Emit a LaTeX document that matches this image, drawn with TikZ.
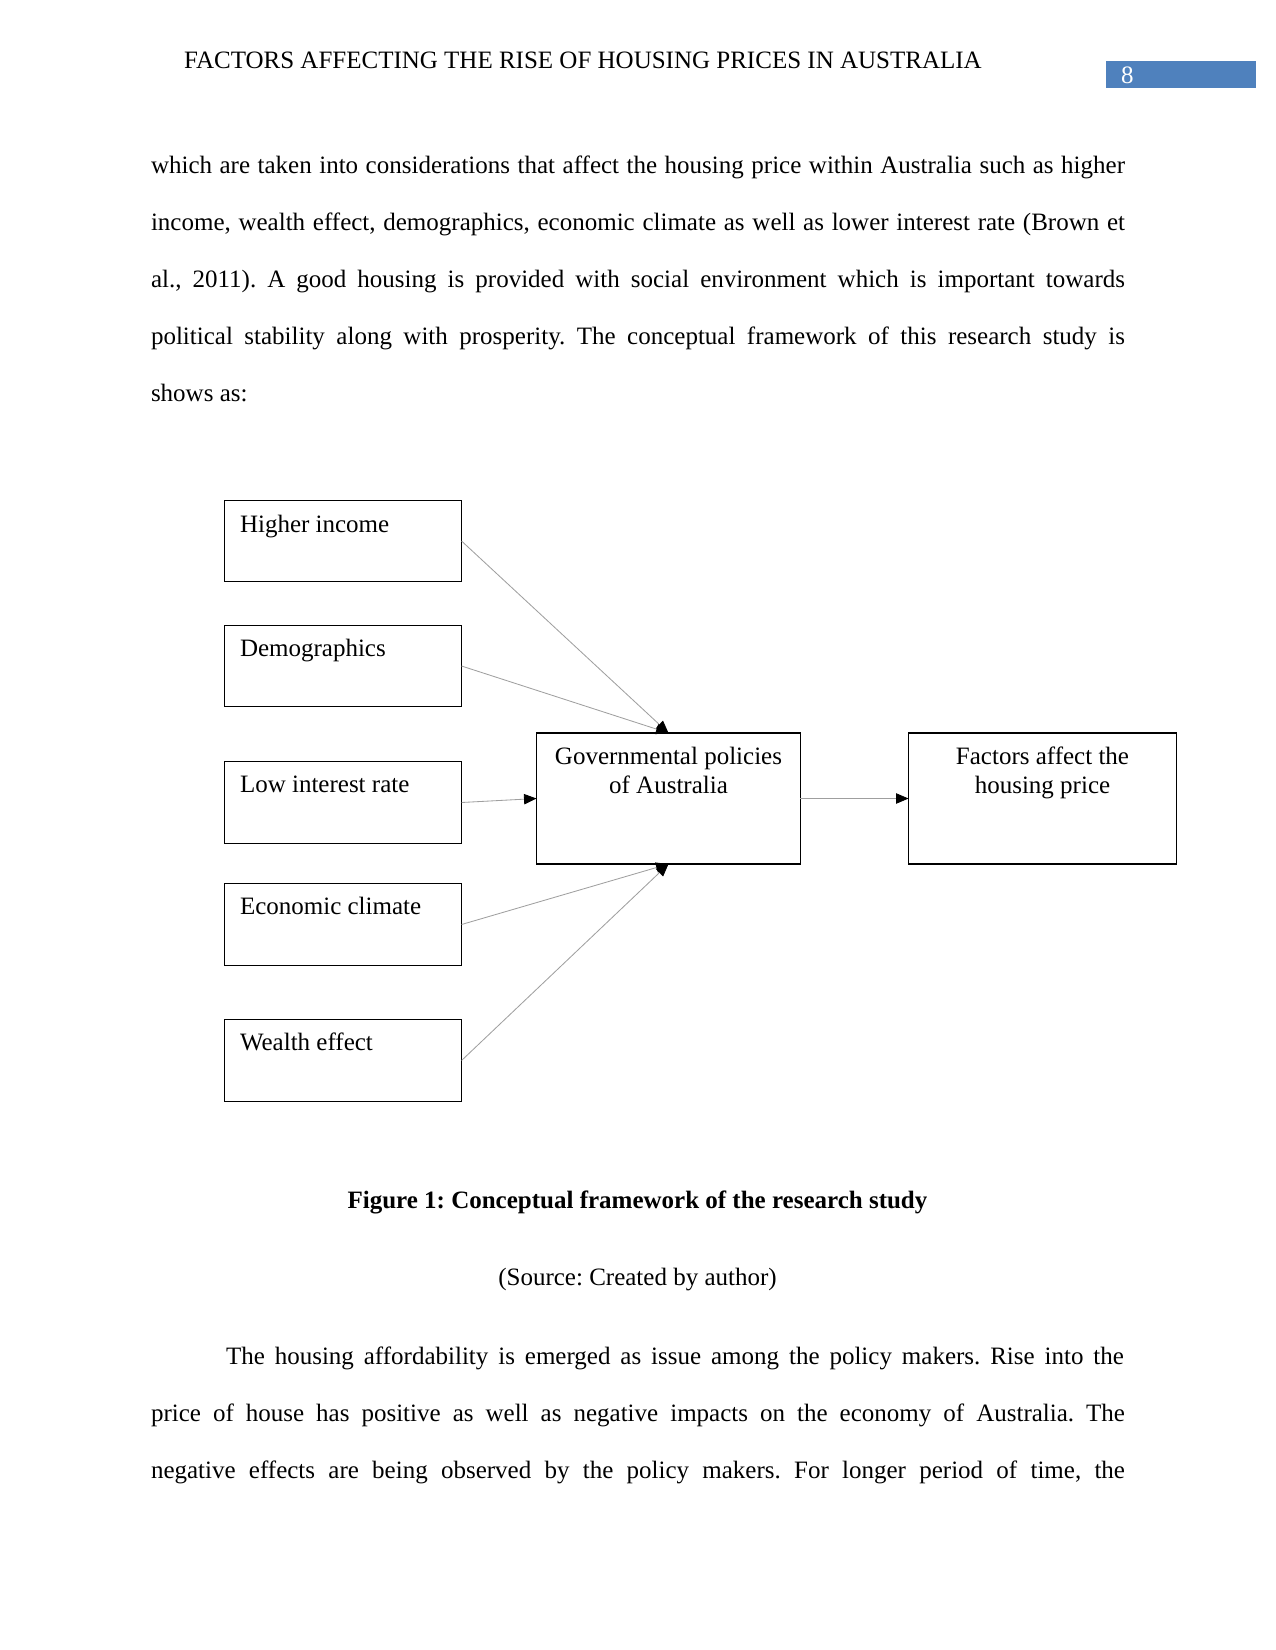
\documentclass[tikz,border=0pt]{standalone}
\usepackage{fontspec}
\setmainfont{Liberation Serif}
\usetikzlibrary{arrows.meta}
\definecolor{pgblue}{HTML}{4F81BD}
\frenchspacing
\begin{document}
\begin{tikzpicture}[x=0.48bp,y=-0.48bp,
  every node/.style={font=\fontsize{12bp}{14bp}\selectfont\frenchspacing, inner sep=0pt, outer sep=0pt},
  txt/.style={anchor=base west},
  srcbox/.style={draw, line width=0.55pt, minimum width=113.8bp, minimum height=39bp},
  midbox/.style={draw, line width=0.55pt, minimum height=62.9bp},
  conn/.style={draw=gray!75, line width=0.4pt, -{Triangle[length=6bp,width=5bp,black]}}]
\useasboundingbox (0,0) rectangle (1275,1650);
\fill[white] (0,0) rectangle (1275,1650);
% header
\node[txt] (hdr) at (184,68) {FACTORS AFFECTING THE RISE OF HOUSING PRICES IN AUSTRALIA};
\fill[pgblue] (1106,61) rectangle (1256,88);
\node[txt, text=white] (pgnum) at (1121,83) {8};
% first paragraph
\node[txt] (l1) at (151,173) {\makebox[467.5bp][s]{which are taken into considerations that affect the housing price within Australia such as higher}};
\node[txt] (l2) at (151,230) {\makebox[467.5bp][s]{income, wealth effect, demographics, economic climate as well as lower interest rate (Brown et}};
\node[txt] (l3) at (151,287) {\makebox[467.5bp][s]{al., 2011). A good housing is provided with social environment which is important towards}};
\node[txt] (l4) at (151,344) {\makebox[467.5bp][s]{political stability along with prosperity. The conceptual framework of this research study is}};
\node[txt] (l5) at (151,401) {shows as:};
% diagram
\node[srcbox] (hi) at (343,541) {};
\node[srcbox] (de) at (343,666) {};
\node[srcbox] (li) at (343,802.5) {};
\node[srcbox] (ec) at (343,924.5) {};
\node[srcbox] (we) at (343,1060.5) {};
\node[txt] (hit) at (240,532) {Higher income};
\node[txt] (det) at (240,656) {Demographics};
\node[txt] (lit) at (240,792) {Low interest rate};
\node[txt] (ect) at (240,914) {Economic climate};
\node[txt] (wet) at (240,1050) {Wealth effect};
\node[midbox, minimum width=126.7bp] (gov) at (668.5,798.5) {};
\node[midbox, minimum width=128.6bp] (fac) at (1042.5,798.5) {};
\node[anchor=base] (gov1) at (668.5,764) {Governmental policies};
\node[anchor=base] (gov2) at (668.5,793) {of Australia};
\node[anchor=base] (fac1) at (1042.5,764) {Factors affect the};
\node[anchor=base] (fac2) at (1042.5,793) {housing price};
\draw[conn] (hi.east) -- (gov.north);
\draw[conn] (de.east) -- (gov.north);
\draw[conn] (li.east) -- (gov.west);
\draw[conn] (ec.east) -- (gov.south);
\draw[conn] (we.east) -- (gov.south);
\draw[conn] (gov.east) -- (fac.west);
% caption
\node[anchor=base, font=\fontsize{12bp}{14bp}\selectfont\frenchspacing\bfseries] (cap) at (637.5,1208) {Figure 1: Conceptual framework of the research study};
\node[anchor=base] (src) at (637.5,1285) {(Source: Created by author)};
% second paragraph
\node[txt] (m1) at (226,1364) {\makebox[431bp][s]{The housing affordability is emerged as issue among the policy makers. Rise into the}};
\node[txt] (m2) at (151,1421) {\makebox[467.5bp][s]{price of house has positive as well as negative impacts on the economy of Australia. The}};
\node[txt] (m3) at (151,1478) {\makebox[467.5bp][s]{negative effects are being observed by the policy makers. For longer period of time, the}};
\end{tikzpicture}
\end{document}
